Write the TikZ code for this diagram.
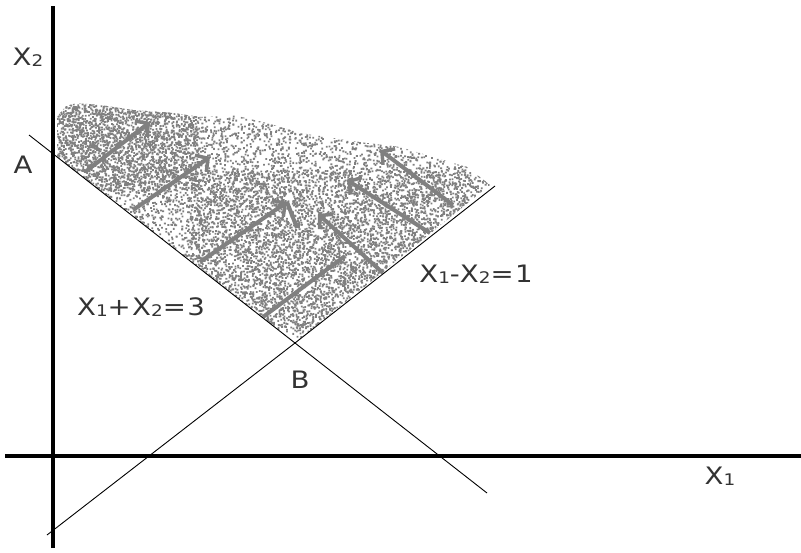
\documentclass[tikz,border=0pt]{standalone}
\usepackage{fontspec}
\setmainfont{DejaVu Sans}
\newfontfamily\lblfont[LetterSpace=5]{DejaVu Sans}
\usetikzlibrary{arrows.meta}
\newcommand{\sbs}[1]{\raisebox{-1pt}{\fontsize{16}{16}\selectfont #1}}
\newcommand{\wide}[1]{\scalebox{1.15}[1]{#1}}
\begin{document}
\begin{tikzpicture}[x=1pt,y=-1pt,
  lbl/.style={font=\lblfont\fontsize{24}{24}\selectfont, inner sep=0pt, text=black!80},
  axis/.style={line width=4.5pt, black},
  cons/.style={line width=0.9pt, black},
  dot/.style={fill=gray},
  dir/.style={line width=4pt, gray, -{Straight Barb[length=9pt,width=20pt,line width=3.5pt]}},
  dirline/.style={line width=4pt, gray}]
\useasboundingbox[fill=white] (0,0) rectangle (801,552);

% stippled feasible region
\pgfmathsetseed{42}
\begin{scope}
\clip (57,117) -- (66,106) -- (77,103) -- (100,105) -- (133,110) -- (173,113) -- (200,117) -- (233,115) -- (267,123) -- (300,133) -- (333,138) -- (367,143) -- (400,147) -- (433,157) -- (467,167) -- (490,185) -- (295,343) -- (57,157) -- cycle;
\foreach \k in {1,...,7}{
  \fill[dot] \foreach \i in {1,...,1400}{ ({55+440*rnd},{98+248*rnd}) rectangle ++(1.8,1.8) };
}
\foreach \k in {1,...,3}{
  \fill[dot] \foreach \i in {1,...,1200}{ ({190+280*rnd},{170+160*rnd}) rectangle ++(1.8,1.8) };
}
\foreach \k in {1,...,2}{
  \fill[dot] \foreach \i in {1,...,900}{ ({57+140*rnd},{100+90*rnd}) rectangle ++(1.8,1.8) };
}
\end{scope}

% direction arrows
\draw[dir] (85,172) -- (150,122);
\draw[dir] (133,210) -- (210,157);
\draw[dir] (200,262) -- (287,202);
\draw[dirline] (287,202) -- (297,228);
\draw[dirline] (263,317) -- (345,256);
\draw[dir] (383,273) -- (318,214);
\draw[dir] (430,233) -- (347,180);
\draw[dir] (453,205) -- (380,150);

% axes
\coordinate (yb) at (53,548);
\coordinate (yt) at (53,6);
\coordinate (xl) at (5,456);
\coordinate (xr) at (801,456);
\draw[axis] (yb) -- (yt);
\draw[axis] (xl) -- (xr);

% constraint lines
\coordinate (B) at (295,343);
\coordinate (l1s) at (29,135);
\coordinate (l1e) at (487,493);
\coordinate (l2s) at (47,535);
\coordinate (l2e) at (495,186);
\draw[cons] (l1s) -- (B) -- (l1e);
\draw[cons] (l2s) -- (B) -- (l2e);

% labels
\node[lbl] (x2) at (28,57) {\wide{X\sbs{2}}};
\node[lbl] (A) at (23,165) {\wide{A}};
\node[lbl] (c1) at (141,307) {\wide{X\sbs{1}+X\sbs{2}=3}};
\node[lbl] (c2) at (476,274) {\wide{X\sbs{1}-X\sbs{2}=1}};
\node[lbl] (Blbl) at (300,380) {\wide{B}};
\node[lbl] (x1) at (720,476) {\wide{X\sbs{1}}};
\end{tikzpicture}
\end{document}
